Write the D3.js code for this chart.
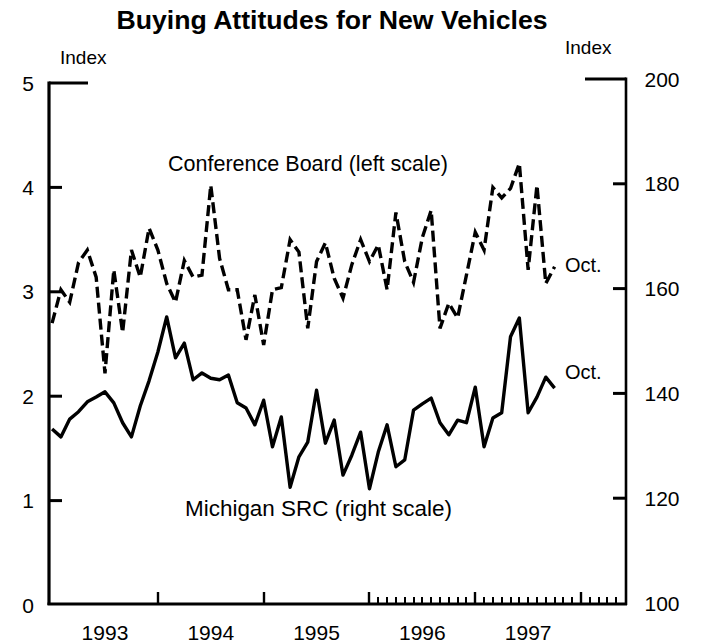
<!DOCTYPE html>
<html>
<head>
<meta charset="utf-8">
<script src="https://cdn.jsdelivr.net/npm/d3@7"></script>
<style>
  html, body { margin: 0; padding: 0; background: #fff; }
  svg { display: block; }
  text { font-family: "Liberation Sans", Arial, Helvetica, sans-serif; fill: #000; }
</style>
</head>
<body>
<div id="chart"></div>
<script>
// Monthly data, Jan 1993 .. Oct 1997
const startYear = 1993;
const conferenceBoard = [
    2.70, 3.02, 2.90, 3.28, 3.40, 3.14, 2.22, 3.21, 2.61, 3.40, 3.14, 3.61,
    3.40, 3.08, 2.90, 3.30, 3.14, 3.16, 4.02, 3.32, 3.02, 3.02, 2.54, 2.97,
    2.49, 3.02, 3.04, 3.50, 3.38, 2.65, 3.29, 3.47, 3.13, 2.94, 3.26, 3.50,
    3.29, 3.45, 3.02, 3.76, 3.29, 3.09, 3.52, 3.78, 2.65, 2.89, 2.75, 3.16,
    3.57, 3.40, 4.00, 3.90, 3.99, 4.23, 3.21, 4.02, 3.08, 3.24
];
const michiganSRC = [
    133.2, 131.7, 135.1, 136.5, 138.4, 139.3, 140.3, 138.2, 134.4, 131.7, 137.6, 142.4,
    147.9, 154.6, 146.8, 149.6, 142.6, 143.9, 142.9, 142.6, 143.5, 138.2, 137.2, 134.0,
    138.7, 129.8, 135.5, 122.1, 127.9, 130.7, 140.6, 130.5, 134.9, 124.4, 128.2, 132.6,
    121.8, 128.8, 134.0, 126.0, 127.3, 136.8, 138.0, 139.1, 134.4, 132.1, 134.9, 134.4,
    141.2, 129.8, 135.3, 136.3, 150.8, 154.4, 136.3, 139.3, 143.1, 141.0
];
const yearLabels = [1993, 1994, 1995, 1996, 1997];
const leftTicks = [0, 1, 2, 3, 4, 5];
const rightTicks = [100, 120, 140, 160, 180, 200];

const W = 703, H = 643;

const svg = d3.select("#chart").append("svg")
    .attr("width", W)
    .attr("height", H);

// scales (x in months since Jan 1993)
const x = d3.scaleLinear().domain([-0.35, 65.1]).range([49, 626]);
const yL = d3.scaleLinear().domain([0, 5]).range([605, 83]);
const yR = d3.scaleLinear().domain([100, 200]).range([603, 79]);

// title
svg.append("text")
    .attr("x", 332).attr("y", 29)
    .attr("text-anchor", "middle")
    .attr("font-size", 25).attr("font-weight", "bold")
    .attr("textLength", 431).attr("lengthAdjust", "spacingAndGlyphs")
    .text("Buying Attitudes for New Vehicles");

svg.append("text").attr("x", 60).attr("y", 64).attr("font-size", 19).text("Index");
svg.append("text").attr("x", 565).attr("y", 54).attr("font-size", 19).text("Index");

// axes frame
const frame = svg.append("g").attr("stroke", "#000").attr("fill", "none");
frame.append("line").attr("x1", 49).attr("x2", 49).attr("y1", yL(5) - 1.5).attr("y2", 605).attr("stroke-width", 3.2);
frame.append("line").attr("x1", 626).attr("x2", 626).attr("y1", yR(200) - 1.5).attr("y2", 605).attr("stroke-width", 2.6);
frame.append("line").attr("x1", 47.5).attr("x2", 627).attr("y1", 604).attr("y2", 604).attr("stroke-width", 3);
// top caps
frame.append("line").attr("x1", 49).attr("x2", 88).attr("y1", yL(5)).attr("y2", yL(5)).attr("stroke-width", 3);
frame.append("line").attr("x1", 585).attr("x2", 626).attr("y1", yR(200)).attr("y2", yR(200)).attr("stroke-width", 3);

// left ticks
frame.selectAll(".lt").data(leftTicks.filter(d => d > 0 && d < 5)).enter()
    .append("line")
    .attr("x1", 49).attr("x2", 62)
    .attr("y1", d => yL(d)).attr("y2", d => yL(d))
    .attr("stroke-width", 3);
svg.selectAll(".ltl").data(leftTicks).enter()
    .append("text")
    .attr("x", 28).attr("y", d => yL(d))
    .attr("dy", "0.36em")
    .attr("text-anchor", "middle")
    .attr("font-size", 21)
    .text(d => d);

// right ticks
frame.selectAll(".rt").data(rightTicks.filter(d => d > 100 && d < 200)).enter()
    .append("line")
    .attr("x1", 613).attr("x2", 626)
    .attr("y1", d => yR(d)).attr("y2", d => yR(d))
    .attr("stroke-width", 3);
svg.selectAll(".rtl").data(rightTicks).enter()
    .append("text")
    .attr("x", 662).attr("y", d => yR(d))
    .attr("dy", "0.36em")
    .attr("text-anchor", "middle")
    .attr("font-size", 21)
    .text(d => d);

// x ticks: year boundaries, monthly minor ticks from 1996 on
const majorMonths = d3.range(12, 61, 12);
const minorMonths = d3.range(36, 66).filter(m => m % 12 !== 0 && x(m) < 625);
frame.selectAll(".xM").data(majorMonths).enter()
    .append("line")
    .attr("x1", d => Math.round(x(d))).attr("x2", d => Math.round(x(d)))
    .attr("y1", 604).attr("y2", 592)
    .attr("stroke-width", 2.4);
frame.selectAll(".xm").data(minorMonths).enter()
    .append("line")
    .attr("x1", d => Math.round(x(d))).attr("x2", d => Math.round(x(d)))
    .attr("y1", 604).attr("y2", 597)
    .attr("stroke-width", 2);
svg.selectAll(".yl").data(yearLabels).enter()
    .append("text")
    .attr("x", d => x((d - startYear) * 12 + 6))
    .attr("y", 640)
    .attr("text-anchor", "middle")
    .attr("font-size", 21)
    .text(d => d);

// lines
const lineL = d3.line().x((d, i) => x(i)).y(d => yL(d));
const lineR = d3.line().x((d, i) => x(i)).y(d => yR(d));

svg.append("path")
    .datum(conferenceBoard)
    .attr("d", lineL)
    .attr("fill", "none")
    .attr("stroke", "#000")
    .attr("stroke-width", 3.4)
    .attr("stroke-dasharray", "11,5");

svg.append("path")
    .datum(michiganSRC)
    .attr("d", lineR)
    .attr("fill", "none")
    .attr("stroke", "#000")
    .attr("stroke-width", 3.4)
    .attr("stroke-linejoin", "round");

// labels
svg.append("text").attr("x", 168).attr("y", 171).attr("font-size", 22)
    .attr("textLength", 280).attr("lengthAdjust", "spacingAndGlyphs")
    .text("Conference Board (left scale)");
svg.append("text").attr("x", 185).attr("y", 516).attr("font-size", 22)
    .attr("textLength", 267).attr("lengthAdjust", "spacingAndGlyphs")
    .text("Michigan SRC (right scale)");
svg.append("text").attr("x", 565).attr("y", 272).attr("font-size", 20).text("Oct.");
svg.append("text").attr("x", 565).attr("y", 379).attr("font-size", 20).text("Oct.");
</script>
</body>
</html>
